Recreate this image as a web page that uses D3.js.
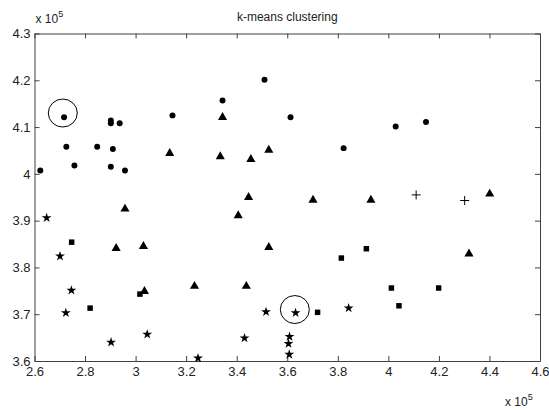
<!DOCTYPE html>
<html>
<head>
<meta charset="utf-8">
<script src="https://cdn.jsdelivr.net/npm/d3@7"></script>
<style>
  body { margin: 0; background: #fff; }
  svg text { font-family: "Liberation Sans", Arial, sans-serif; fill: #222; }
</style>
</head>
<body>
<svg id="chart" width="549" height="410"></svg>
<script>
// cluster points, values in units of 1e5
const dotsX = [2.623, 2.717, 2.726, 2.758, 2.848, 2.902, 2.902, 2.937, 2.910, 2.902, 2.958, 3.146, 3.344, 3.510, 3.613, 3.823, 4.029, 4.149];
const dotsY = [4.007, 4.121, 4.058, 4.018, 4.058, 4.114, 4.108, 4.108, 4.053, 4.015, 4.007, 4.125, 4.157, 4.201, 4.121, 4.055, 4.101, 4.111];

const triX = [3.344, 3.135, 3.335, 3.456, 3.527, 3.447, 2.958, 3.406, 2.923, 3.031, 3.527, 3.233, 3.438, 3.035, 3.702, 3.931, 4.401, 4.319];
const triY = [4.121, 4.044, 4.037, 4.031, 4.051, 3.950, 3.925, 3.911, 3.841, 3.845, 3.843, 3.760, 3.760, 3.749, 3.944, 3.944, 3.957, 3.829];

const sqX = [2.747, 2.820, 3.017, 3.720, 3.814, 3.913, 4.012, 4.042, 4.199];
const sqY = [3.854, 3.713, 3.743, 3.704, 3.820, 3.840, 3.756, 3.718, 3.756];

const starX = [2.648, 2.701, 2.746, 2.724, 2.903, 3.046, 3.247, 3.431, 3.516, 3.633, 3.843, 3.609, 3.605, 3.608];
const starY = [3.906, 3.824, 3.751, 3.703, 3.640, 3.657, 3.606, 3.649, 3.705, 3.703, 3.713, 3.652, 3.637, 3.614];

const plusX = [4.110, 4.302];
const plusY = [3.955, 3.943];

// highlighted centres (big open circles)
const ringX = [2.712, 3.630];
const ringY = [4.130, 3.710];

const xTicks = [2.6, 2.8, 3, 3.2, 3.4, 3.6, 3.8, 4, 4.2, 4.4, 4.6];
const yTicks = [3.6, 3.7, 3.8, 3.9, 4, 4.1, 4.2, 4.3];

const margin = {left: 34.5, top: 33.5, right: 9, bottom: 49};
const W = 549, H = 410;
const svg = d3.select("#chart");

const x = d3.scaleLinear().domain([2.6, 4.6]).range([margin.left, W - margin.right]);
const y = d3.scaleLinear().domain([3.6, 4.3]).range([H - margin.bottom, margin.top]);

const fmt = d => String(d);

// axes with inward ticks on all sides
svg.append("g")
    .attr("transform", `translate(0,${y(3.6)})`)
    .call(d3.axisBottom(x).tickValues(xTicks).tickFormat(fmt).tickSizeInner(-5).tickSizeOuter(0).tickPadding(6))
    .call(g => g.selectAll("text").attr("font-size", 13));
svg.append("g")
    .attr("transform", `translate(0,${y(4.3)})`)
    .call(d3.axisTop(x).tickValues(xTicks).tickFormat("").tickSizeInner(-5).tickSizeOuter(0));
svg.append("g")
    .attr("transform", `translate(${x(2.6)},0)`)
    .call(d3.axisLeft(y).tickValues(yTicks).tickFormat(fmt).tickSizeInner(-5).tickSizeOuter(0).tickPadding(4))
    .call(g => g.selectAll("text").attr("font-size", 13));
svg.append("g")
    .attr("transform", `translate(${x(4.6)},0)`)
    .call(d3.axisRight(y).tickValues(yTicks).tickFormat("").tickSizeInner(-5).tickSizeOuter(0));

svg.selectAll(".domain").attr("stroke", "#404040");
svg.selectAll(".tick line").attr("stroke", "#404040");

// x 10^5 labels
const exp1 = svg.append("text").attr("x", margin.left + 1).attr("y", 23).attr("font-size", 12);
exp1.append("tspan").text("x 10");
exp1.append("tspan").attr("dy", -6).attr("font-size", 9).text("5");
const exp2 = svg.append("text").attr("x", 505).attr("y", 406).attr("font-size", 12);
exp2.append("tspan").text("x 10");
exp2.append("tspan").attr("dy", -6).attr("font-size", 9).text("5");

svg.append("text")
    .attr("x", (x(2.6) + x(4.6)) / 2).attr("y", 21)
    .attr("text-anchor", "middle").attr("font-size", 12)
    .text("k-means clustering");

const plot = svg.append("g");

function drawSym(xs, ys, type, size) {
  plot.selectAll(null)
    .data(xs.map((v, i) => [v, ys[i]]))
    .join("path")
    .attr("transform", d => `translate(${x(d[0])},${y(d[1])})`)
    .attr("d", d3.symbol().type(type).size(size))
    .attr("fill", "#000");
}

drawSym(dotsX, dotsY, d3.symbolCircle, 28);
drawSym(triX, triY, d3.symbolTriangle, 36);
drawSym(sqX, sqY, d3.symbolSquare, 30);
drawSym(starX, starY, d3.symbolStar, 30);

plot.selectAll(null)
  .data(plusX.map((v, i) => [v, plusY[i]]))
  .join("path")
  .attr("transform", d => `translate(${x(d[0])},${y(d[1])})`)
  .attr("d", "M-4.5,0H4.5M0,-4.5V4.5")
  .attr("stroke", "#000").attr("fill", "none");

plot.selectAll(null)
  .data(ringX.map((v, i) => [v, ringY[i]]))
  .join("ellipse")
  .attr("cx", d => x(d[0])).attr("cy", d => y(d[1]))
  .attr("rx", 14.5).attr("ry", 14)
  .attr("fill", "none").attr("stroke", "#000").attr("stroke-width", 1);
</script>
</body>
</html>
